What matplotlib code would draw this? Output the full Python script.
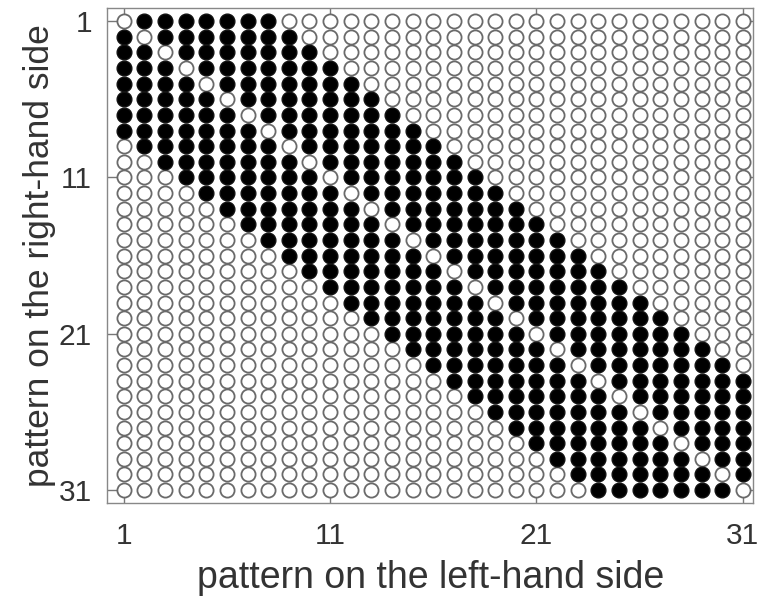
import numpy as np
import matplotlib.pyplot as plt

plt.rcParams['font.family'] = ['Liberation Sans', 'DejaVu Sans']

# which left/right pattern pairs are compatible: one string per right-hand pattern,
# one character per left-hand pattern (1 = filled, 0 = empty)
rows = [
    "0111111100000000000000000000000",
    "1011111110000000000000000000000",
    "1101111111000000000000000000000",
    "1110111111100000000000000000000",
    "1111011111110000000000000000000",
    "1111101111111000000000000000000",
    "1111110111111100000000000000000",
    "1111111011111110000000000000000",
    "0111111101111111000000000000000",
    "0011111110111111100000000000000",
    "0001111111011111110000000000000",
    "0000111111101111111000000000000",
    "0000011111110111111100000000000",
    "0000001111111011111110000000000",
    "0000000111111101111111000000000",
    "0000000011111110111111100000000",
    "0000000001111111011111110000000",
    "0000000000111111101111111000000",
    "0000000000011111110111111100000",
    "0000000000001111111011111110000",
    "0000000000000111111101111111000",
    "0000000000000011111110111111100",
    "0000000000000001111111011111110",
    "0000000000000000111111101111111",
    "0000000000000000011111110111111",
    "0000000000000000001111111011111",
    "0000000000000000000111111101111",
    "0000000000000000000011111110111",
    "0000000000000000000001111111011",
    "0000000000000000000000111111101",
    "0000000000000000000000011111110",
]
tick_vals = [1, 11, 21, 31]
xlabel = "pattern on the left-hand side"
ylabel = "pattern on the right-hand side"

grid = np.array([[int(ch) for ch in r] for r in rows])
n = grid.shape[0]
cols, rws = np.meshgrid(np.arange(1, n + 1), np.arange(1, n + 1))
on = grid == 1

fig = plt.figure(figsize=(7.6, 6.07), dpi=100)
ax = fig.add_axes([0.141, 0.172, 0.85, 0.815])

ax.plot(cols[~on], rws[~on], 'o', ms=10.2, mfc='white', mec='#6a6a6a', mew=1.3, ls='none')
ax.plot(cols[on], rws[on], 'o', ms=10.6, mfc='black', mec='#111111', mew=1.0, ls='none')

ax.set_xlim(0.2, 31.5)
ax.set_ylim(31.8, 0.15)
ax.set_xticks(tick_vals)
ax.set_yticks(tick_vals)
ax.tick_params(direction='in', top=True, right=True, length=7, width=1.0,
               color='#777777', labelsize=21.5, labelcolor='#333333')
ax.tick_params(axis='x', pad=14)
ax.tick_params(axis='y', pad=11)
for s in ax.spines.values():
    s.set_color('#888888')
    s.set_linewidth(1.0)

ax.set_xlabel(xlabel, fontsize=27, color='#333333', labelpad=7)
ax.set_ylabel(ylabel, fontsize=25.5, color='#333333', labelpad=2)

fig.savefig('out.png', dpi=100, facecolor='white')
